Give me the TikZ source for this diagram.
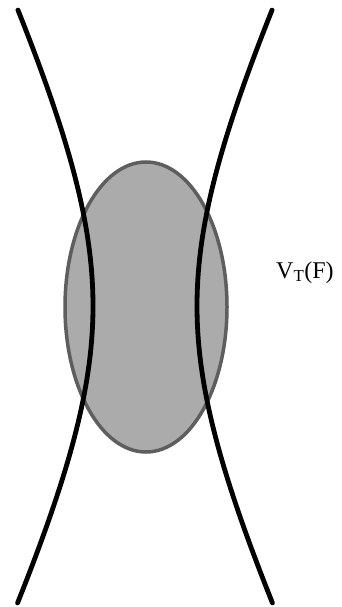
\documentclass[tikz,border=0pt]{standalone}
\usepackage{fontspec}
\setmainfont{Liberation Serif}
\definecolor{blobfill}{HTML}{ABABAB}
\definecolor{blobline}{HTML}{5E5E5E}
\tikzset{
  beam/.style={line width=4.8pt, black, line cap=round},
  blob/.style={fill=blobfill, draw=blobline, line width=3.5pt},
  lbl/.style={font=\fontsize{24}{28}\selectfont, inner sep=0pt, anchor=base west}
}
\begin{document}
\begin{tikzpicture}[x=1pt,y=-1pt]
\useasboundingbox (0,0) rectangle (342,607);
\fill[white] (0,0) rectangle (342,607);
\draw[blob] (146,307) ellipse [x radius=81, y radius=145];
\draw[beam] plot[domain=10:603, samples=80, variable=\y]
  ({93-100*(sqrt(1+((\y-306)/206)^2)-1)}, \y);
\draw[beam] plot[domain=10:603, samples=80, variable=\y]
  ({197+100*(sqrt(1+((\y-306)/206)^2)-1)}, \y);
\node[lbl] (vt) at (276,278) {V\textsubscript{T}(F)};
\end{tikzpicture}
\end{document}
